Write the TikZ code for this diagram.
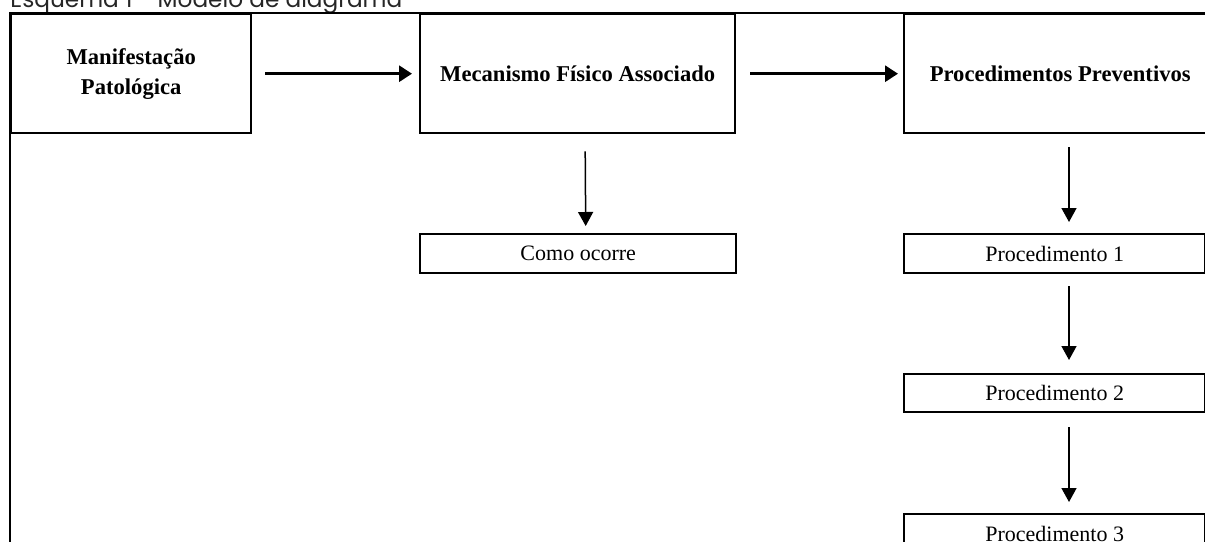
\documentclass[tikz,border=0pt]{standalone}
\usepackage{fontspec}
\setmainfont{Liberation Serif}
\newfontfamily\capfont{Poppins}
\usetikzlibrary{arrows.meta}
\tikzstyle{Frame}=[line width=1.3pt]
\tikzstyle{Box}=[draw,line width=1.2pt,inner sep=0pt,anchor=north west,
minimum height=59.5pt,align=center,font=\fontsize{11.3}{15}\selectfont\bfseries]
\tikzstyle{SmallBox}=[draw,line width=1.2pt,inner sep=0pt,anchor=north west,
minimum height=19.5pt,font=\fontsize{11}{13}\selectfont]
\tikzstyle{Edge}=[line width=.75pt,-{Triangle[width=7.5pt,length=7pt]}]
\tikzstyle{EdgeH}=[line width=1.5pt,-{Triangle[width=8pt,length=6.5pt]}]
\tikzstyle{Caption}=[inner sep=0pt,anchor=base west,text=black!85,
font=\capfont\fontsize{11.6}{13}\selectfont]

\begin{document}
\begin{tikzpicture}[x=.5pt,y=-.5pt]
            \useasboundingbox(0,0)rectangle(1205,541);
            \clip(0,0)rectangle(1205,541);
            \node[Caption](cap)at(10,7){Esquema 1 - Modelo de diagrama};
            \draw[Frame](10,545)|-(1215,13);
            %
            \node[Box,minimum width=120pt](mani)at(10,13)
                {Manifestação\\Patológica};
            \node[Box,minimum width=157.5pt](meca)at(419,13)
                {Mecanismo Físico Associado};
            \node[Box,minimum width=156pt](prev)at(903,13)
                {Procedimentos Preventivos};
            \node[SmallBox,minimum width=158pt](como)at(419,233)
                {Como ocorre};
            \node[SmallBox,minimum width=150.5pt](p1)at(903,233)
                {Procedimento 1};
            \node[SmallBox,minimum width=150.5pt,minimum height=19pt](p2)
                at(903,373){Procedimento 2};
            \node[SmallBox,minimum width=150.5pt](p3)at(903,513)
                {Procedimento 3};
            %
            \draw[EdgeH,shorten <=6.5pt,shorten >=3.5pt](mani)--(meca);
            \draw[EdgeH,shorten <=7pt,shorten >=2.5pt](meca)--(prev);
            \draw[Edge]([xshift=3.75pt,yshift=-8.5pt]meca.south)
                --([xshift=3.75pt,yshift=3.5pt]como.north);
            \draw[Edge]([xshift=83pt,yshift=-6.5pt]prev.south west)
                --([xshift=83pt,yshift=5.5pt]p1.north west);
            \draw[Edge]([xshift=83pt,yshift=-6pt]p1.south west)
                --([xshift=83pt,yshift=6.5pt]p2.north west);
            \draw[Edge]([xshift=83pt,yshift=-7pt]p2.south west)
                --([xshift=83pt,yshift=5.5pt]p3.north west);
        \end{tikzpicture}
\end{document}
